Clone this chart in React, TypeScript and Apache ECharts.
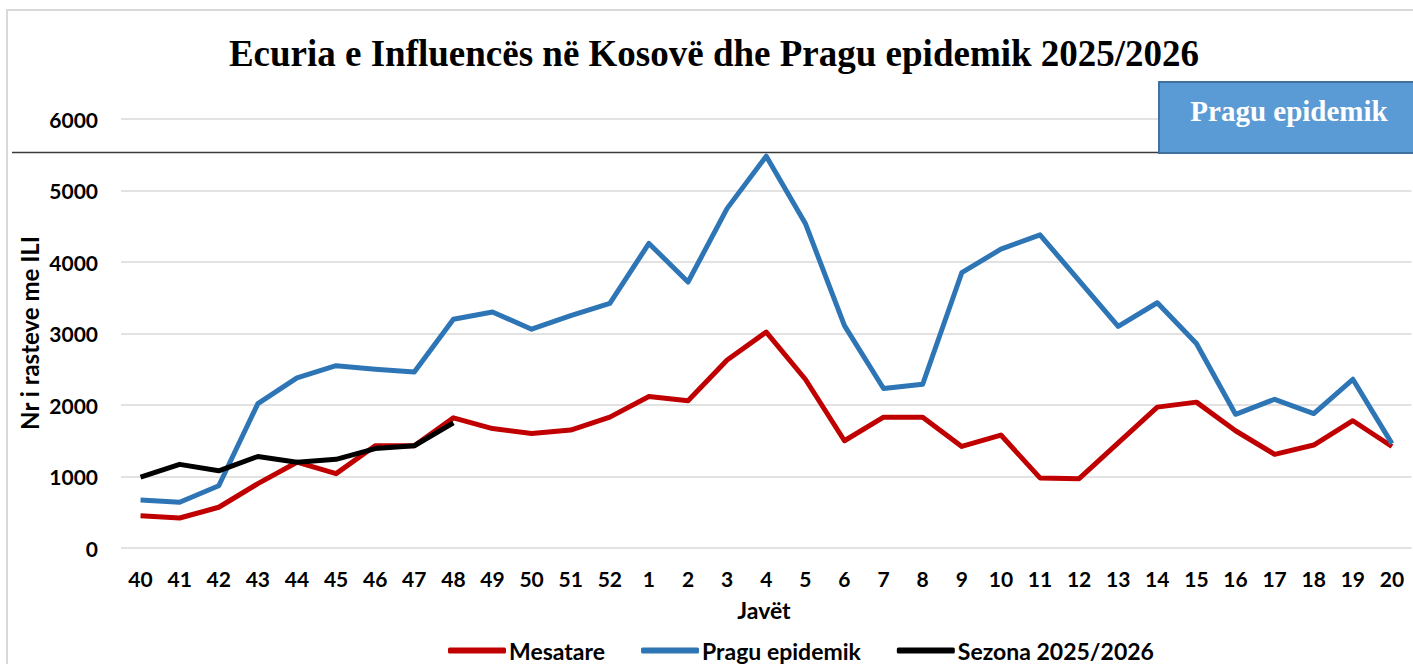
import React, { useEffect, useRef } from "react";
import * as echarts from "echarts";

const weeks = ["40","41","42","43","44","45","46","47","48","49","50","51","52","1","2","3","4","5","6","7","8","9","10","11","12","13","14","15","16","17","18","19","20"];
const mesatare = [450,420,570,900,1200,1040,1430,1430,1820,1670,1600,1650,1830,2120,2060,2630,3020,2360,1500,1830,1830,1420,1580,980,970,1470,1970,2040,1640,1310,1440,1780,1420];
const pragu = [670,640,870,2020,2380,2550,2500,2460,3200,3300,3060,3250,3420,4260,3720,4750,5480,4540,3110,2230,2290,3850,4180,4380,3740,3100,3430,2860,1870,2080,1880,2360,1460];
const sezona = [990,1170,1080,1280,1200,1240,1390,1430,1750];
const yTicks = { min: 0, max: 6000, interval: 1000 };

const SANS = "Lato, 'Open Sans', sans-serif";
const SERIF = "'Liberation Serif', 'Times New Roman', serif";

export default function App() {
  const ref = useRef<HTMLDivElement>(null);
  useEffect(() => {
    if (!ref.current) return;
    const chart = echarts.init(ref.current, null, { renderer: "svg" });
    chart.setOption({
      animation: false,
      backgroundColor: "#ffffff",
      grid: { left: 121, right: 1.5, top: 119, bottom: 116, containLabel: false },
      xAxis: {
        type: "category",
        data: weeks,
        boundaryGap: true,
        axisLine: { show: false },
        axisTick: { show: false },
        axisLabel: {
          interval: 0,
          margin: 20,
          color: "#000",
          fontFamily: SANS,
          fontWeight: "bold",
          fontSize: 21,
          lineHeight: 21,
        },
        splitLine: { show: false },
      },
      yAxis: {
        type: "value",
        min: yTicks.min,
        max: yTicks.max,
        interval: yTicks.interval,
        axisLine: { show: false },
        axisTick: { show: false },
        axisLabel: {
          margin: 23,
          color: "#000",
          fontFamily: SANS,
          fontWeight: "bold",
          fontSize: 21,
          formatter: (v: number) => String(v),
        },
        splitLine: { lineStyle: { color: "#D9D9D9", width: 1.5 } },
      },
      legend: {
        left: 443,
        top: 634,
        icon: "roundRect",
        itemWidth: 58,
        itemHeight: 6,
        itemGap: 36,
        textStyle: {
          color: "#000",
          fontFamily: SANS,
          fontWeight: "bold",
          fontSize: 23,
          padding: [0, 0, 0, -2],
        },
        data: ["Mesatare", "Pragu epidemik", "Sezona 2025/2026"],
      },
      series: [
        {
          name: "Mesatare",
          type: "line",
          data: mesatare,
          symbol: "none",
          color: "#C00000",
          lineStyle: { width: 5, color: "#C00000", join: "round" },
        },
        {
          name: "Pragu epidemik",
          type: "line",
          data: pragu,
          symbol: "none",
          color: "#2E75B6",
          lineStyle: { width: 5, color: "#2E75B6", join: "round" },
        },
        {
          name: "Sezona 2025/2026",
          type: "line",
          data: sezona,
          symbol: "none",
          color: "#000000",
          lineStyle: { width: 5, color: "#000000", join: "round" },
        },
      ],
      graphic: [
        {
          type: "rect",
          shape: { x: 7, y: 10, width: 1500, height: 800 },
          style: { fill: "none", stroke: "#D9D9D9", lineWidth: 2 },
          silent: true,
        },
        {
          type: "text",
          x: 714,
          y: 53,
          style: {
            text: "Ecuria e Influencës në Kosovë dhe Pragu epidemik 2025/2026",
            font: `bold 37px ${SERIF}`,
            fill: "#000",
            align: "center",
            verticalAlign: "middle",
          },
        },
        {
          type: "line",
          shape: { x1: 12, y1: 152.5, x2: 1413, y2: 152.5 },
          style: { stroke: "#3a3a3a", lineWidth: 1.5 },
          z: 10,
        },
        {
          type: "rect",
          shape: { x: 1159, y: 82, width: 270, height: 71 },
          style: { fill: "#5B9BD5", stroke: "#41719C", lineWidth: 2 },
          z: 11,
        },
        {
          type: "text",
          x: 1289,
          y: 111,
          z: 12,
          style: {
            text: "Pragu epidemik",
            font: `bold 29px ${SERIF}`,
            fill: "#ffffff",
            align: "center",
            verticalAlign: "middle",
          },
        },
        {
          type: "text",
          x: 29,
          y: 333,
          rotation: Math.PI / 2,
          style: {
            text: "Nr i rasteve me ILI",
            font: `bold 24px ${SANS}`,
            fill: "#000",
            align: "center",
            verticalAlign: "middle",
          },
        },
        {
          type: "text",
          x: 764,
          y: 610,
          style: {
            text: "Javët",
            font: `bold 23px ${SANS}`,
            fill: "#000",
            align: "center",
            verticalAlign: "middle",
          },
        },
      ],
    });
    return () => chart.dispose();
  }, []);
  return (
    <div
      ref={ref}
      style={{ position: "absolute", left: 0, top: 0, width: 1413, height: 664 }}
    />
  );
}
